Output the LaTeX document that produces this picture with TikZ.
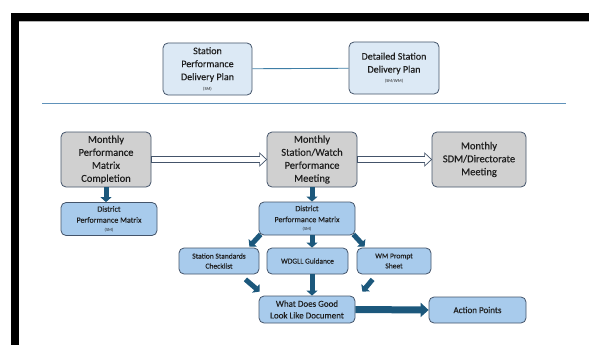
\documentclass[tikz,border=0pt]{standalone}
\usepackage{fontspec}
\setmainfont{Carlito}[FakeBold=0.25]
\newfontfamily\plainfont{Carlito}
\usetikzlibrary{arrows.meta,calc}

\definecolor{edge}{RGB}{68,84,106}
\definecolor{ink}{RGB}{30,30,30}
\definecolor{pale}{RGB}{220,233,245}
\definecolor{midblue}{RGB}{168,203,236}
\definecolor{greyfill}{RGB}{208,208,208}
\definecolor{navy}{RGB}{28,88,124}
\definecolor{linkblue}{RGB}{62,126,166}
\definecolor{rulecol}{RGB}{96,146,186}

\newcommand{\tinylbl}[1]{{\plainfont\fontsize{4.5}{5}\selectfont #1}}

\tikzset{
  box/.style={draw=edge, line width=0.8pt, rounded corners=5pt, align=center,
    inner sep=1pt, text=ink},
  topbox/.style={box, fill=pale, font=\fontsize{10}{13}\selectfont},
  greybox/.style={box, fill=greyfill, font=\fontsize{10.5}{13}\selectfont},
  bluebox/.style={box, fill=midblue},
  arr/.style={draw=navy, line width=5pt, -{Triangle[length=5pt, width=11pt]}},
  bigarr/.style={draw=navy, line width=7pt, -{Triangle[length=8pt, width=14pt]}},
  hollow/.style={draw=edge, line width=0.7pt, fill=white, line join=miter},
  link/.style={draw=linkblue, line width=0.9pt},
  rule/.style={draw=rulecol, line width=1.5pt},
}

\begin{document}
\begin{tikzpicture}[x=1pt, y=-1pt]
\useasboundingbox (0,0) rectangle (589,345);

% frame bands
\fill[black] (11,13) rectangle (589,21);
\fill[black] (11,13) rectangle (19,345);
\draw[gray!60, line width=0.6pt] (19,21.3) -- (589,21.3);

% planning documents
\node[topbox, minimum width=89, minimum height=52] (spdp) at (207.5,69)
  {Station\\Performance\\Delivery Plan\\[-3pt]\tinylbl{(SM)}};
\node[topbox, minimum width=90, minimum height=52] (dsdp) at (394,68)
  {Detailed Station\\Delivery Plan\\[-3pt]\tinylbl{(SM/WM)}};
\draw[link] (spdp) -- (dsdp);

% separator
\coordinate (ruleL) at (42,103.5);
\coordinate (ruleR) at (566,103.5);
\draw[rule] (ruleL) -- (ruleR);

% monthly cycle
\node[greybox, minimum width=90, minimum height=55] (mpmc) at (106,159.5)
  {Monthly\\Performance\\Matrix\\Completion};
\node[greybox, minimum width=90, minimum height=55] (mswp) at (312,159.5)
  {Monthly\\Station/Watch\\Performance\\Meeting};
\node[greybox, minimum width=94, minimum height=55] (msdm) at (479,159.5)
  {Monthly\\SDM/Directorate\\Meeting};

% hollow flow arrows
\foreach \a/\b in {mpmc/mswp, mswp/msdm}{
  \draw[hollow] ($(\a.east)+(0,-3)$) -- ($(\b.west)+(-7,-3)$)
    -- ($(\b.west)+(-7,-6.5)$) -- (\b.west) -- ($(\b.west)+(-7,6.5)$)
    -- ($(\b.west)+(-7,3)$) -- ($(\a.east)+(0,3)$) -- cycle;
}

% district matrices
\node[bluebox, minimum width=96, minimum height=33, font=\fontsize{8}{11}\selectfont]
  (dpm1) at (109,219) {District\\Performance Matrix\\[-2.5pt]\tinylbl{(SM)}};
\node[bluebox, minimum width=96, minimum height=33, font=\fontsize{8}{11}\selectfont]
  (dpm2) at (307,218.5) {District\\Performance Matrix\\[-2.5pt]\tinylbl{(SM)}};

\draw[arr] (mpmc.south) -- (mpmc.south |- dpm1.north);
\draw[arr] (mswp.south) -- (mswp.south |- dpm2.north);

% supporting documents
\node[bluebox, minimum width=80, minimum height=26, font=\fontsize{7.5}{10}\selectfont]
  (ssc) at (219,261) {Station Standards\\Checklist};
\node[bluebox, minimum width=81, minimum height=26, font=\fontsize{7.5}{10}\selectfont]
  (wdgll) at (307.5,261) {WDGLL Guidance};
\node[bluebox, minimum width=74, minimum height=26, font=\fontsize{7.5}{10}\selectfont]
  (wmps) at (394,261) {WM Prompt\\Sheet};

\draw[arr] ($(dpm2.south west)+(2,-1)$) -- ($(ssc.north east)+(-10,-1)$);
\draw[arr] (dpm2.south -| mswp) -- (wdgll.north -| mswp);
\draw[arr] ($(dpm2.south east)+(-2,-1)$) -- ($(wmps.north west)+(8,-1)$);

% outcome
\node[bluebox, minimum width=96, minimum height=27, font=\fontsize{9}{11.7}\selectfont]
  (wdg) at (307,309.5) {What Does Good\\Look Like Document};
\node[bluebox, minimum width=97, minimum height=26, font=\fontsize{9}{11.7}\selectfont]
  (ap) at (477.5,310) {Action Points};

\draw[arr] ($(ssc.south east)+(-14,5)$) -- ($(wdg.north west)+(1,-4)$);
\draw[arr] (wdgll.south -| mswp) -- (wdg.north -| mswp);
\draw[arr] ($(wmps.south west)+(16,5)$) -- ($(wdg.north east)+(7,-4)$);
\draw[bigarr] (wdg.east) -- (ap.west);
\end{tikzpicture}
\end{document}
